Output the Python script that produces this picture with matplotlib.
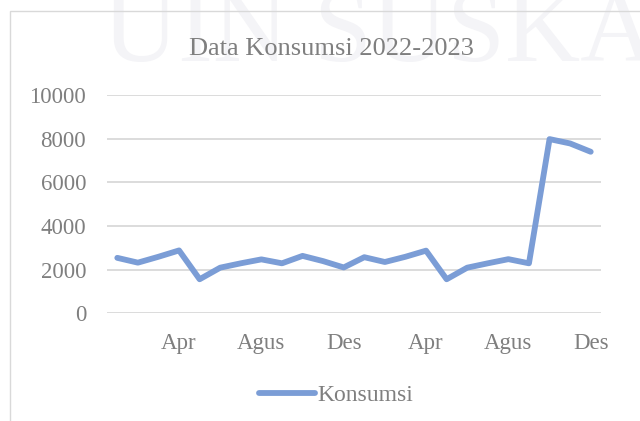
import matplotlib
matplotlib.use("Agg")
import matplotlib.pyplot as plt
from matplotlib.patches import Rectangle

# =====================
# data
# =====================
months = list(range(24))
konsumsi = [2540, 2320, 2590, 2880, 1560, 2090, 2290, 2470, 2290, 2630, 2390, 2100,
            2570, 2350, 2590, 2870, 1560, 2090, 2290, 2480, 2290, 7980, 7780, 7400]
tick_pos = [3, 7, 11, 15, 19, 23]
tick_labels = ["Apr", "Agus", "Des", "Apr", "Agus", "Des"]
y_ticks = [0, 2000, 4000, 6000, 8000, 10000]

plt.rcParams["font.family"] = ["Liberation Serif", "DejaVu Serif"]
grey = "#7f7f7f"
blue = "#7b9dd6"

fig = plt.figure(figsize=(6.4, 4.21), dpi=100)

# faint watermark of the scanned page
fig.text(103 / 640, 1 - 61 / 421, "UIN SUSKA R", fontsize=75, color="#f4f4f7",
         ha="left", va="baseline", zorder=0)

# chart border
fig.patches.append(Rectangle((10 / 640, -0.1), 1.2, 1 - 11 / 421 + 0.1,
                             transform=fig.transFigure, fill=False,
                             edgecolor="#d9d9d9", linewidth=1, zorder=1))

ax = fig.add_axes([107 / 640, 1 - 313.3 / 421, (601 - 107) / 640, (313.3 - 95) / 421])
ax.patch.set_alpha(0)

ax.plot(months, konsumsi, color=blue, linewidth=4.2,
        solid_capstyle="round", solid_joinstyle="round", label="Konsumsi")

ax.set_xlim(-0.5, 23.5)
ax.set_ylim(0, 10000)
ax.set_yticks(y_ticks)
ax.set_yticklabels([str(v) for v in y_ticks])
ax.set_xticks(tick_pos)
ax.set_xticklabels(tick_labels)
ax.grid(axis="y", color="#d9d9d9", linewidth=1.3)
ax.set_axisbelow(True)
for s in ax.spines.values():
    s.set_visible(False)
ax.tick_params(axis="both", length=0, labelsize=16.5, labelcolor=grey)
ax.tick_params(axis="y", pad=15)
ax.tick_params(axis="x", pad=14)

fig.text(331 / 640, 1 - 49 / 421, "Data Konsumsi 2022-2023", fontsize=19,
         color=grey, ha="center", va="center")

fig.legend(loc="center", bbox_to_anchor=(336 / 640, 1 - 395 / 421), frameon=False,
           fontsize=17, labelcolor=grey, handlelength=2.4, handletextpad=0.1)

fig.savefig("out.png", dpi=100)
